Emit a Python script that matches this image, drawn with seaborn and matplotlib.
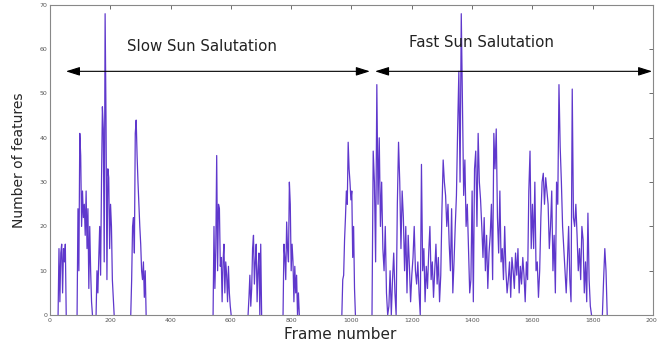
import numpy as np
import pandas as pd
import seaborn as sns
import matplotlib
matplotlib.use("Agg")
import matplotlib.pyplot as plt

# slow sun salutation bursts (start frame, values every 3 frames)
slow_step = 3
slow_a = (27, [0, 15, 3, 14, 16, 5, 15, 12, 16, 0])
slow_b = (90, [0, 24, 10, 41, 36, 20, 28, 22, 25, 18, 28, 15, 24, 6, 20, 10, 3, 0])
slow_c = (153, [0, 10, 5, 13, 20, 9, 30, 47, 42, 12, 68, 44, 8, 33, 31, 15, 25, 20, 8, 4, 0])
slow_d = (268, [0, 8, 20, 22, 14, 41, 44, 36, 30, 25, 20, 16, 10, 8, 12, 4, 10, 0])
slow_e = (541, [0, 20, 6, 15, 36, 10, 25, 24, 11, 13, 3, 12, 16, 5, 12, 9, 3, 11, 5, 2, 0])
slow_f = (657, [0, 4, 9, 2, 6, 15, 18, 7, 12, 16, 3, 10, 14, 0, 16, 0])
slow_g = (773, [0, 16, 13, 8, 21, 15, 12, 30, 25, 10, 16, 12, 3, 11, 5, 9, 0, 5, 0])
slow_h = (968, [0, 8, 9, 17, 22, 28, 25, 39, 33, 30, 26, 28, 13, 20, 6, 0])

# fast sun salutation (values every 4 frames from frame 1068)
fast_start = 1068
fast_step = 4
fast_vals = (
    [0, 37, 30, 12, 52, 25, 40, 20, 30, 15, 10, 20, 5, 0]
    + [2, 10, 0, 8, 14, 5, 0]
    + [25, 39, 30, 15, 28, 22, 10, 20, 5, 18, 11, 3, 9]
    + [13, 20, 10, 7, 12, 5, 0]
    + [34]
    + [10, 15, 3, 11, 6, 14, 20, 8, 12, 4, 10, 16, 7, 13, 3, 9]
    + [24, 35, 30, 27, 20, 25, 16, 10, 24, 5, 12]
    + [20, 27, 42, 55, 30, 68, 48, 27, 35, 20, 25, 15, 5]
    + [8, 28, 3, 33]
    + [37, 20, 41, 30, 26, 20, 13, 22, 10, 18, 6, 14]
    + [18, 25, 8, 41, 33, 42, 22, 14, 28, 12, 15, 8, 20, 10, 5]
    + [8, 12, 4, 13, 10, 6, 14, 9, 15, 5, 11, 7, 13, 9, 3, 12, 8]
    + [28, 37, 15, 25, 15, 30, 10, 12, 4]
    + [10, 22, 30, 32, 25, 31, 28, 25, 15, 20, 28, 10, 18, 5, 30]
    + [25, 52, 38, 30, 20]
    + [15, 10, 5, 12, 20, 8, 3, 51]
    + [22, 20, 25, 18, 10, 15, 8, 20, 17, 5, 12, 3, 23, 8, 2, 0]
)
fast_tail = (1832, [0, 8, 15, 10, 0])

xticks = [0, 200, 400, 600, 800, 1000, 1200, 1400, 1600, 1800, 2000]
yticks = [0, 10, 20, 30, 40, 50, 60, 70]

rows = []
bursts = [(slow_step, s) for s in [slow_a, slow_b, slow_c, slow_d, slow_e, slow_f, slow_g, slow_h]]
bursts += [(fast_step, (fast_start, fast_vals)), (fast_step, fast_tail)]
for seg, (step, (start, vals)) in enumerate(bursts):
    for i, v in enumerate(vals):
        rows.append({"frame": start + step * i, "features": v, "seg": seg})
df = pd.DataFrame(rows)

sns.set_style("white")
fig = plt.figure(figsize=(6.57, 3.47), dpi=100)
ax = fig.add_axes([0.076, 0.092, 0.918, 0.894])

sns.lineplot(data=df, x="frame", y="features", units="seg", estimator=None,
             sort=False, ax=ax, color="#5f38cc", linewidth=0.9, zorder=1)

ax.set_xlim(0, 2000)
ax.set_ylim(0, 70)
ax.set_xticks(xticks)
ax.set_yticks(yticks)
ax.set_xticklabels([str(t) for t in xticks])
ax.tick_params(direction="in", top=True, right=True, length=3, width=0.6,
               labelsize=4.5, colors="#555555", pad=2)
for s in ax.spines.values():
    s.set_color("#888888")
    s.set_linewidth(0.8)
    s.set_zorder(3)

ax.set_xlabel("Frame number", fontsize=11)
ax.set_ylabel("Number of features", fontsize=10)
ax.xaxis.set_label_coords(0.481, -0.04)
ax.yaxis.set_label_coords(-0.04, 0.5)

arrow = dict(arrowstyle="<|-|>,head_length=0.7,head_width=0.22", color="black",
             lw=0.8, mutation_scale=12, shrinkA=0, shrinkB=0)
ax.annotate("", xy=(53, 55), xytext=(1061, 55), arrowprops=arrow)
ax.annotate("", xy=(1078, 55), xytext=(1997, 55), arrowprops=arrow)
ax.text(503, 60.7, "Slow Sun Salutation", fontsize=10.8, ha="center", va="center", color="#222222")
ax.text(1430, 61.4, "Fast Sun Salutation", fontsize=10.8, ha="center", va="center", color="#222222")

fig.savefig("out.png", dpi=100)
